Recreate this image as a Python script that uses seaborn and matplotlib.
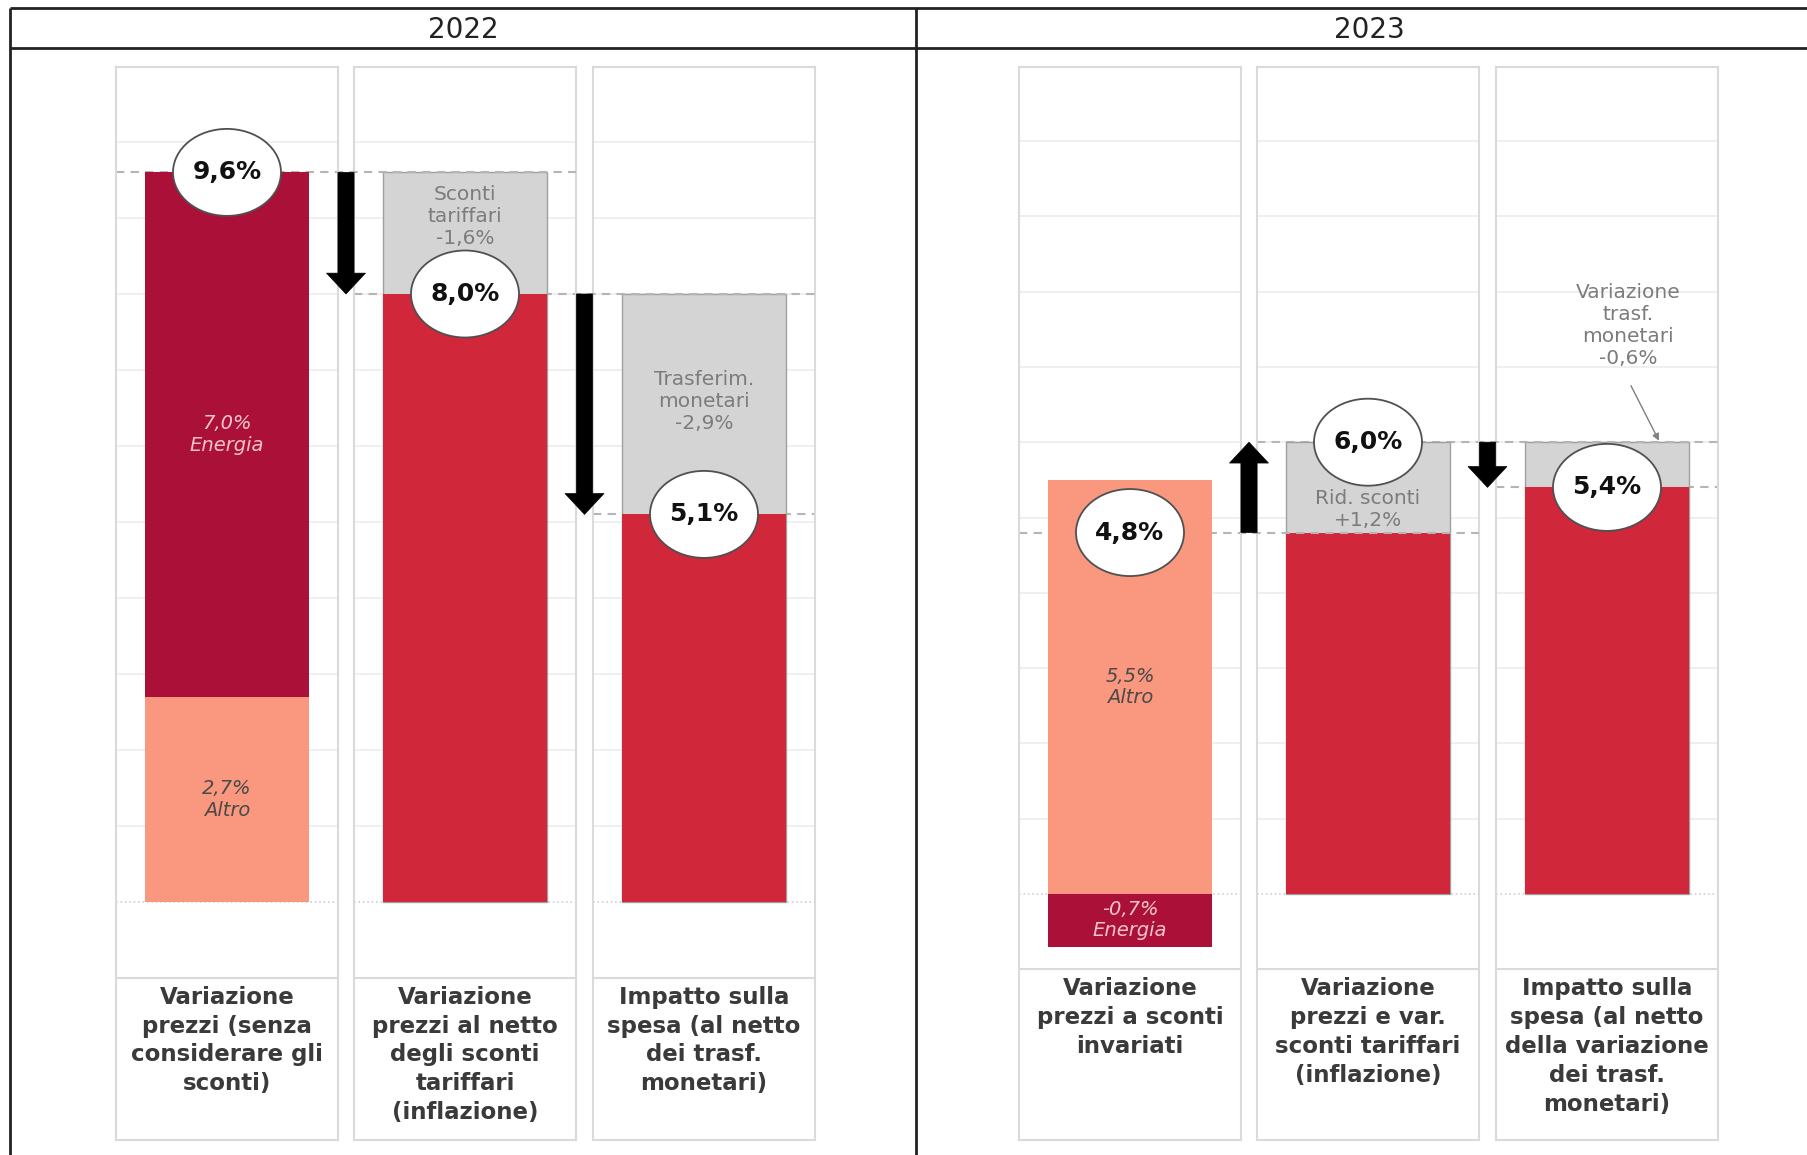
import matplotlib
matplotlib.use("Agg")
import matplotlib.pyplot as plt
import matplotlib.transforms as mtransforms
from matplotlib.patches import Ellipse
import seaborn as sns

# data
years = ["2022", "2023"]
steps_2022 = [
    "Variazione\nprezzi (senza\nconsiderare gli\nsconti)",
    "Variazione\nprezzi al netto\ndegli sconti\ntariffari\n(inflazione)",
    "Impatto sulla\nspesa (al netto\ndei trasf.\nmonetari)",
]
steps_2023 = [
    "Variazione\nprezzi a sconti\ninvariati",
    "Variazione\nprezzi e var.\nsconti tariffari\n(inflazione)",
    "Impatto sulla\nspesa (al netto\ndella variazione\ndei trasf.\nmonetari)",
]
totals_2022 = [9.6, 8.0, 5.1]
totals_2023 = [4.8, 6.0, 5.4]
energia = [7.0, -0.7]
altro = [2.7, 5.5]
changes_2022 = [-1.6, -2.9]
changes_2023 = [1.2, -0.6]
change_names_2022 = ["Sconti\ntariffari", "Trasferim.\nmonetari"]
change_names_2023 = ["Rid. sconti", "Variazione\ntrasf.\nmonetari"]

DARK = "#ab1038"
SALMON = "#f9977f"
RED = "#d0273b"
GRAY = "#d4d4d4"
PANEL = "#dadada"
LABEL_GRAY = "#7c7c7c"

W, H = 1807, 1155
PANEL_TOP, PANEL_BOT = 67, 1140
layout = {
    "2022": dict(lefts=[116, 354, 593], zero=902, ppp=76.0, title_x=463),
    "2023": dict(lefts=[1019, 1257, 1496], zero=894, ppp=75.3, title_x=1369),
}
PW = 222
label_dy = [0.22, 0.03]   # nudges for the grey change labels


def pct(v, sign=False):
    s = f"{v:+.1f}" if sign else f"{v:.1f}"
    return s.replace(".", ",") + "%"


fig = plt.figure(figsize=(W / 100, H / 100), dpi=100)

bg = fig.add_axes([0, 0, 1, 1], zorder=-5)
bg.set_xlim(0, W)
bg.set_ylim(H, 0)
bg.axis("off")
bg.hlines([8, 48], 10, W, color="#222222", lw=2)
bg.vlines([10, 916], 8, H, color="#222222", lw=2)

series = {
    "2022": (steps_2022, totals_2022, changes_2022, change_names_2022),
    "2023": (steps_2023, totals_2023, changes_2023, change_names_2023),
}

for k, year in enumerate(years):
    steps, totals, changes, names = series[year]
    lay = layout[year]
    bg.text(lay["title_x"], 30, year, ha="center", va="center", fontsize=20, color="#222222")
    ymax = (lay["zero"] - PANEL_TOP) / lay["ppp"]
    ymin = -(PANEL_BOT - lay["zero"]) / lay["ppp"]
    ell_h = 87 / lay["ppp"]

    for i in range(3):
        left = lay["lefts"][i]
        ax = fig.add_axes([left / W, 1 - PANEL_BOT / H, PW / W, (PANEL_BOT - PANEL_TOP) / H],
                          zorder=10 - i)
        ax.patch.set_alpha(0)
        trans = mtransforms.blended_transform_factory(ax.transAxes, ax.transData)
        tot = totals[i]

        if i == 0:
            en, alt = energia[k], altro[k]
            if en > 0:
                layers = [(tot, DARK), (alt, SALMON)]
                en_y = (alt + tot) / 2
            else:
                layers = [(alt, SALMON), (en, DARK)]
                en_y = en / 2
        else:
            prev = totals[i - 1]
            layers = [(max(prev, tot), GRAY), (min(prev, tot), RED)]

        for val, col in layers:
            sns.barplot(x=[steps[i]], y=[val], color=col, saturation=1, width=0.74, ax=ax,
                        edgecolor="#a0a0a0" if col == GRAY else "none",
                        linewidth=1.0 if col == GRAY else 0, zorder=2)

        ax.set_xlim(-0.5, 0.5)
        ax.set_ylim(ymin, ymax)
        ax.set_yticks(range(1, 11))
        ax.grid(axis="y", color="#ececec", lw=1.2, zorder=0)
        ax.set_axisbelow(True)
        ax.axhline(0, color="#d0d0d0", lw=1.2, ls=":", zorder=0.5)
        ax.axhline(-1, color=PANEL, lw=1.5)
        ax.tick_params(length=0, labelbottom=False, labelleft=False)
        ax.set_xlabel("")
        ax.set_ylabel("")
        for sp in ax.spines.values():
            sp.set_color(PANEL)
            sp.set_linewidth(1.5)

        # dashed reference line at the level reached by this step
        gap = (lay["lefts"][i + 1] - left - PW) / PW if i < 2 else 0
        x_end = 2 + gap if i < 2 else 1
        ax.plot([0, x_end], [tot, tot], transform=trans, color="#b5b5b5", lw=1.5,
                ls=(0, (4, 3)), zorder=1, clip_on=False)

        # text inside the bars
        if i == 0:
            ax.text(0, en_y, pct(energia[k]) + "\nEnergia", ha="center", va="center",
                    fontsize=14, style="italic", color="#f4c4cd", linespacing=1.15, zorder=4)
            ax.text(0, altro[k] / 2, pct(altro[k]) + "\nAltro", ha="center", va="center",
                    fontsize=14, style="italic", color="#4a4a4a", linespacing=1.15, zorder=4)
        else:
            prev = totals[i - 1]
            ch = changes[i - 1]
            label = names[i - 1] + "\n" + pct(ch, sign=ch > 0)
            if abs(ch) < 1:
                ax.text(0.095, prev + 1.55, label, ha="center", va="center", fontsize=14.5,
                        color=LABEL_GRAY, linespacing=1.2, zorder=6)
                ax.annotate("", xy=(0.234, prev + 0.02), xytext=(0.108, prev + 0.75),
                            arrowprops=dict(arrowstyle="-|>", color="#808080", lw=1.0,
                                            shrinkA=0, shrinkB=0), zorder=6)
            elif ch > 0:
                ax.text(0, tot - ell_h / 2 - 0.04, label, ha="center", va="top",
                        fontsize=14.5, color=LABEL_GRAY, linespacing=1.2, zorder=4)
            else:
                ax.text(0, (tot + prev) / 2 + label_dy[i - 1], label, ha="center", va="center",
                        fontsize=14.5, color=LABEL_GRAY, linespacing=1.2, zorder=4)

        # value bubble
        ax.add_patch(Ellipse((0, tot), width=108 / PW, height=ell_h, facecolor="white",
                             edgecolor="#505050", lw=1.3, zorder=5))
        ax.text(0, tot, pct(tot), ha="center", va="center", fontsize=18,
                fontweight="bold", color="#111111", zorder=6)

        # step arrow into the next panel
        if i < 2:
            xf = 1 + gap / 2
            ax.annotate("", xy=(xf, totals[i + 1]), xytext=(xf, tot),
                        xycoords=trans, textcoords=trans, annotation_clip=False,
                        arrowprops=dict(arrowstyle="simple,head_length=0.75,head_width=1.4,tail_width=0.58",
                                        fc="black", ec="black", lw=0.5,
                                        shrinkA=0, shrinkB=0, mutation_scale=20),
                        zorder=7)

        # category label
        ax.text(0.5, -1.1, steps[i], transform=trans, ha="center", va="top",
                fontsize=16.5, fontweight="bold", color="#3a3a3a", linespacing=1.33)

fig.savefig("out.png", dpi=100)
